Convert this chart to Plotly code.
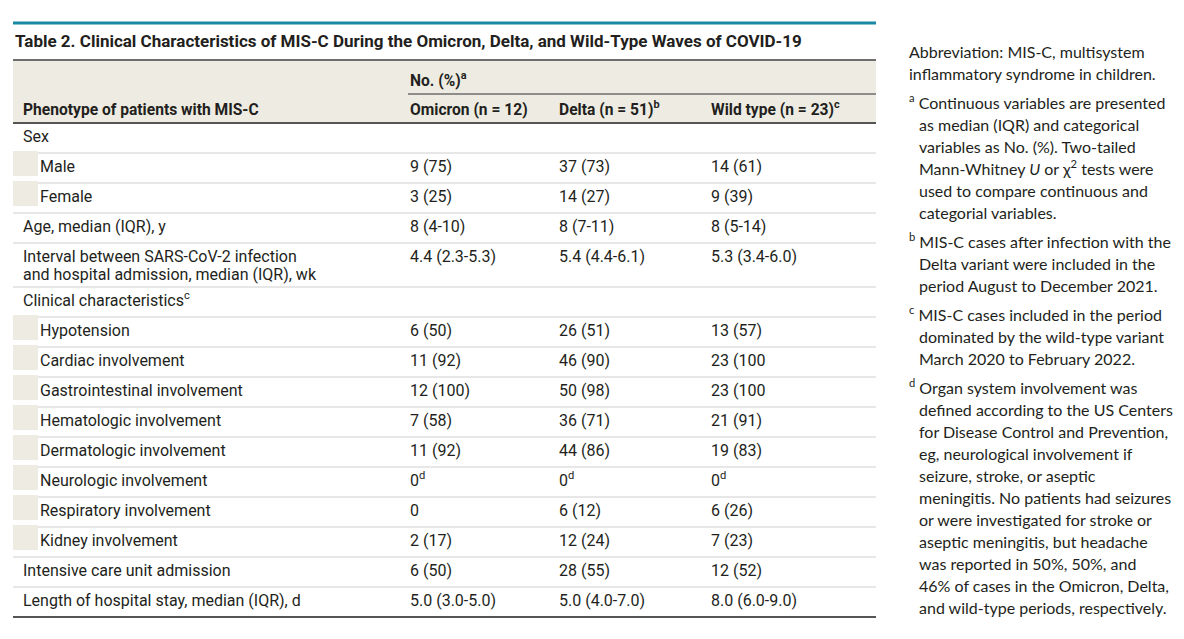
import plotly.graph_objects as go

# ---- data -------------------------------------------------------------
title = "Table 2. Clinical Characteristics of MIS-C During the Omicron, Delta, and Wild-Type Waves of COVID-19"
group_header = "No. (%)<sup>a</sup>"
column_headers = [
    "Phenotype of patients with MIS-C",
    "Omicron (n = 12)",
    "Delta (n = 51)<sup>b</sup>",
    "Wild type (n = 23)<sup>c</sup>",
]

row_labels = [
    "Sex",
    "Male",
    "Female",
    "Age, median (IQR), y",
    "Interval between SARS-CoV-2 infection<br>and hospital admission, median (IQR), wk",
    "Clinical characteristics<sup>c</sup>",
    "Hypotension",
    "Cardiac involvement",
    "Gastrointestinal involvement",
    "Hematologic involvement",
    "Dermatologic involvement",
    "Neurologic involvement",
    "Respiratory involvement",
    "Kidney involvement",
    "Intensive care unit admission",
    "Length of hospital stay, median (IQR), d",
]
row_indent = [0, 1, 1, 0, 0, 0, 1, 1, 1, 1, 1, 1, 1, 1, 0, 0]

omicron = ["", "9 (75)", "3 (25)", "8 (4-10)", "4.4 (2.3-5.3)", "",
           "6 (50)", "11 (92)", "12 (100)", "7 (58)", "11 (92)", "0<sup>d</sup>",
           "0", "2 (17)", "6 (50)", "5.0 (3.0-5.0)"]
delta = ["", "37 (73)", "14 (27)", "8 (7-11)", "5.4 (4.4-6.1)", "",
         "26 (51)", "46 (90)", "50 (98)", "36 (71)", "44 (86)", "0<sup>d</sup>",
         "6 (12)", "12 (24)", "28 (55)", "5.0 (4.0-7.0)"]
wild_type = ["", "14 (61)", "9 (39)", "8 (5-14)", "5.3 (3.4-6.0)", "",
             "13 (57)", "23 (100", "23 (100", "21 (91)", "19 (83)", "0<sup>d</sup>",
             "6 (26)", "7 (23)", "12 (52)", "8.0 (6.0-9.0)"]

notes = [
    ["Abbreviation: MIS-C, multisystem",
     "inflammatory syndrome in children."],
    ["<sup>a</sup> Continuous variables are presented",
     "as median (IQR) and categorical",
     "variables as No. (%). Two-tailed",
     "Mann-Whitney <i>U</i> or χ<sup>2</sup> tests were",
     "used to compare continuous and",
     "categorial variables."],
    ["<sup>b</sup> MIS-C cases after infection with the",
     "Delta variant were included in the",
     "period August to December 2021."],
    ["<sup>c</sup> MIS-C cases included in the period",
     "dominated by the wild-type variant",
     "March 2020 to February 2022."],
    ["<sup>d</sup> Organ system involvement was",
     "defined according to the US Centers",
     "for Disease Control and Prevention,",
     "eg, neurological involvement if",
     "seizure, stroke, or aseptic",
     "meningitis. No patients had seizures",
     "or were investigated for stroke or",
     "aseptic meningitis, but headache",
     "was reported in 50%, 50%, and",
     "46% of cases in the Omicron, Delta,",
     "and wild-type periods, respectively."],
]

# ---- layout constants (pixels, in page coordinates) --------------------
W, H = 1184, 639
PAD = 8  # body margin of the html page
LEFT, RIGHT = 13, 876
COL_X = [21, 408, 557, 709]
TEXT = "#231f20"
BEIGE = "#eeece2"
FONT = "Roboto"

fig = go.Figure()
shapes = []
annotations = []


def hline(y, x0=LEFT, x1=RIGHT, color="#cfcfcf", width=1.2):
    shapes.append(dict(type="line", xref="x", yref="y", x0=x0, x1=x1, y0=y, y1=y,
                       line=dict(color=color, width=width), layer="above"))


def text(x, y, s, size=16, bold=False, font=FONT):
    # y is the visual centre of a plain line; anchor at the bottom so that
    # superscripts do not push the baseline around
    if bold:
        s = f"<b>{s}</b>"
    annotations.append(dict(x=x, y=y + 0.66 * size, xref="x", yref="y", text=s,
                            showarrow=False, xanchor="left", yanchor="bottom",
                            align="left",
                            font=dict(family=font, size=size, color=TEXT)))


# title block
hline(23, color="#1a87a5", width=3)
text(LEFT, 42, title, size=17, bold=True)

# header band
shapes.append(dict(type="rect", xref="x", yref="y", x0=LEFT, x1=RIGHT, y0=60, y1=123,
                   fillcolor=BEIGE, line=dict(width=0), layer="below"))
hline(60, color="#6e6e6e", width=2)
text(COL_X[1], 82, group_header, size=15.6, bold=True)
hline(94, x0=COL_X[1], color="#6e6e6e", width=1.5)
for cx, h in zip(COL_X, column_headers):
    text(cx, 111, h, size=15.6, bold=True)

# body rows
top = 123
for i, label in enumerate(row_labels):
    lines = label.split("<br>")
    height = 30 + 14 * (len(lines) - 1)
    bottom = top + height
    if i < len(row_labels) - 1:
        hline(bottom)
    if row_indent[i]:
        shapes.append(dict(type="rect", xref="x", yref="y", x0=LEFT, x1=38,
                           y0=top - 2, y1=bottom - 7, fillcolor=BEIGE,
                           line=dict(width=0), layer="above"))
    lx = 38 if row_indent[i] else COL_X[0]
    for k, line in enumerate(lines):
        text(lx, top + 14.5 + 18 * k, line)
    for cx, vals in zip(COL_X[1:], [omicron, delta, wild_type]):
        if vals[i]:
            text(cx, top + 14.5, vals[i])
    top = bottom

hline(123, color="#555555", width=2)
hline(top, color="#555555", width=2)

# footnotes on the right
y = 52
for p, para in enumerate(notes):
    for j, line in enumerate(para):
        indent = 907 if (j == 0 or p == 0) else 917
        text(indent, y, line, size=16, font="Lato")
        y += 22
    y += 7

fig.update_layout(
    width=W - 2 * PAD, height=H - 2 * PAD,
    margin=dict(l=0, r=0, t=0, b=0),
    paper_bgcolor="white", plot_bgcolor="white",
    xaxis=dict(range=[PAD, W - PAD], visible=False, fixedrange=True),
    yaxis=dict(range=[H - PAD, PAD], visible=False, fixedrange=True),
    shapes=shapes, annotations=annotations, showlegend=False,
)
fig.write_html("out.html")
